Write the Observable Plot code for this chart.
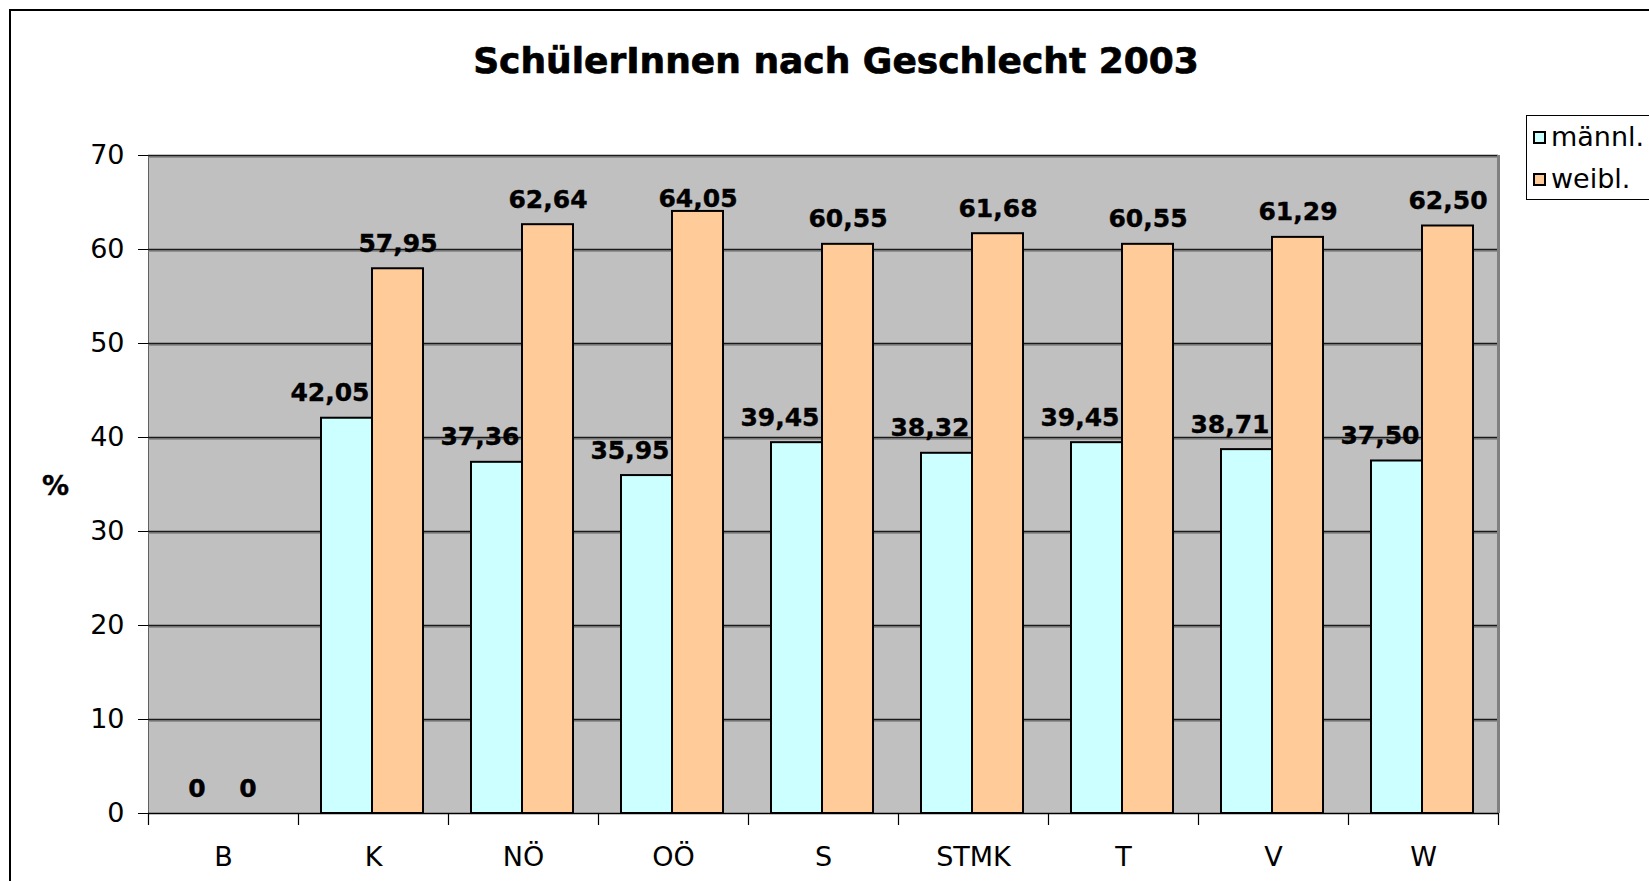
<!DOCTYPE html>
<html>
<head>
<meta charset="utf-8">
<script src="https://cdn.jsdelivr.net/npm/d3@7"></script>
<script src="https://cdn.jsdelivr.net/npm/@observablehq/plot@0.6"></script>
<style>
  html, body { margin: 0; padding: 0; background: #fff; overflow: hidden; }
  body { font-family: "DejaVu Sans", Verdana, sans-serif; color: #000; }
  #wrap { position: relative; width: 1649px; height: 881px; overflow: hidden; }
  #frame { position: absolute; left: 9px; top: 9px; width: 1700px; height: 1000px; border: 2px solid #000; box-sizing: border-box; }
  #title { position: absolute; left: 0; top: 37px; width: 1672px; text-align: center; font-weight: bold; font-size: 36px; line-height: 48px; margin: 0; -webkit-text-stroke: 0.7px #000; }
  #chart { position: absolute; left: 0; top: 120px; }
  #ylab { position: absolute; left: 42px; top: 469px; font-weight: bold; font-size: 27px; line-height: 34px; -webkit-text-stroke: 0.4px #000; }
  #legend { position: absolute; left: 1526px; top: 115px; width: 200px; height: 85px; border: 1px solid #000; background: #fff; box-sizing: border-box; }
  .item { position: absolute; left: 6px; font-size: 27px; line-height: 34px; white-space: nowrap; }
  .sw { display: inline-block; width: 9px; height: 9px; border: 2px solid #000; margin-right: 5px; vertical-align: 2px; }
</style>
</head>
<body>
<div id="wrap">
  <div id="frame"></div>
  <h1 id="title">SchülerInnen nach Geschlecht 2003</h1>
  <div id="chart"></div>
  <div id="ylab">%</div>
  <div id="legend"></div>
</div>
<script>
const categories = ["B", "K", "NÖ", "OÖ", "S", "STMK", "T", "V", "W"];
const maleValues = [0, 42.05, 37.36, 35.95, 39.45, 38.32, 39.45, 38.71, 37.50];
const femaleValues = [0, 57.95, 62.64, 64.05, 60.55, 61.68, 60.55, 61.29, 62.50];
const seriesNames = ["männl.", "weibl."];
const seriesColors = ["#CCFFFF", "#FFCC99"];
const yTicks = [0, 10, 20, 30, 40, 50, 60, 70];

const W = 1649, H = 761;
const mL = 148, mR = 151, mT = 35, mB = 68;
const band = (W - mL - mR) / categories.length;   // 150
const barW = 51;
const offL = 23;                                   // gap before first bar in a band
const labelCap = 62.7;                             // labels are not placed higher than this

const male = categories.map((c, i) => ({cat: c, value: maleValues[i]}));
const female = categories.map((c, i) => ({cat: c, value: femaleValues[i]}));
const fmt = d => d.value === 0 ? "0" : d.value.toFixed(2).replace(".", ",");
const labelY = d => Math.min(d.value, labelCap);

const maleCenter = offL + barW / 2 - band / 2;
const femaleCenter = offL + barW * 1.5 - band / 2;
const maleRight = offL + barW - band / 2;

const labelStyle = {lineAnchor: "middle", fontWeight: "bold", fontSize: 25, fill: "#000", stroke: "#000", strokeWidth: 0.4};

const chart = Plot.plot({
  width: W, height: H,
  marginLeft: mL, marginRight: mR, marginTop: mT, marginBottom: mB,
  style: {fontFamily: "'DejaVu Sans', Verdana, sans-serif", fontSize: "27px", color: "#000", background: "transparent", overflow: "visible"},
  x: {domain: categories, padding: 0, tickSize: 0, tickPadding: 33, label: null},
  y: {domain: [0, 70], ticks: yTicks, tickSize: 10, tickPadding: 14, label: null, line: true},
  marks: [
    Plot.frame({fill: "#C0C0C0", stroke: null}),
    Plot.ruleY(yTicks.filter(t => t > 0), {stroke: "#808080", strokeWidth: 1.5, dy: 1.5}),
    Plot.ruleY(yTicks.filter(t => t > 0), {stroke: "#1a1a1a", strokeWidth: 1.3}),
    Plot.ruleX(["W"], {x: d => d, dx: band / 2, stroke: "#808080", strokeWidth: 3}),
    Plot.barY(male.filter(d => d.value > 0), {x: "cat", y: "value", fill: seriesColors[0], stroke: "#000", strokeWidth: 2,
      insetLeft: offL, insetRight: band - offL - barW}),
    Plot.barY(female.filter(d => d.value > 0), {x: "cat", y: "value", fill: seriesColors[1], stroke: "#000", strokeWidth: 2,
      insetLeft: offL + barW, insetRight: band - offL - 2 * barW}),
    Plot.ruleY([0], {stroke: "#000", strokeWidth: 1.5}),
    Plot.ruleX(categories, {x: d => d, dx: -band / 2, y1: 0, y2: 0, insetBottom: -12, stroke: "#000", strokeWidth: 1.2}),
    Plot.ruleX(["W"], {x: d => d, dx: band / 2, y1: 0, y2: 0, insetBottom: -12, stroke: "#000", strokeWidth: 1.2}),
    Plot.text(male.filter(d => d.value > 0), {x: "cat", y: labelY, text: fmt, dx: maleRight - 3, dy: -25,
      textAnchor: "end", ...labelStyle}),
    Plot.text(male.filter(d => d.value === 0), {x: "cat", y: labelY, text: fmt, dx: maleCenter, dy: -25, ...labelStyle}),
    Plot.text(female, {x: "cat", y: labelY, text: fmt, dx: femaleCenter, dy: -25, ...labelStyle})
  ]
});
document.getElementById("chart").appendChild(chart);

const legend = document.getElementById("legend");
seriesNames.forEach((name, i) => {
  const it = document.createElement("div");
  it.className = "item";
  it.style.top = (i === 0 ? 4 : 46) + "px";
  const sw = document.createElement("span");
  sw.className = "sw";
  sw.style.background = seriesColors[i];
  it.appendChild(sw);
  it.appendChild(document.createTextNode(name));
  legend.appendChild(it);
});
</script>
</body>
</html>
